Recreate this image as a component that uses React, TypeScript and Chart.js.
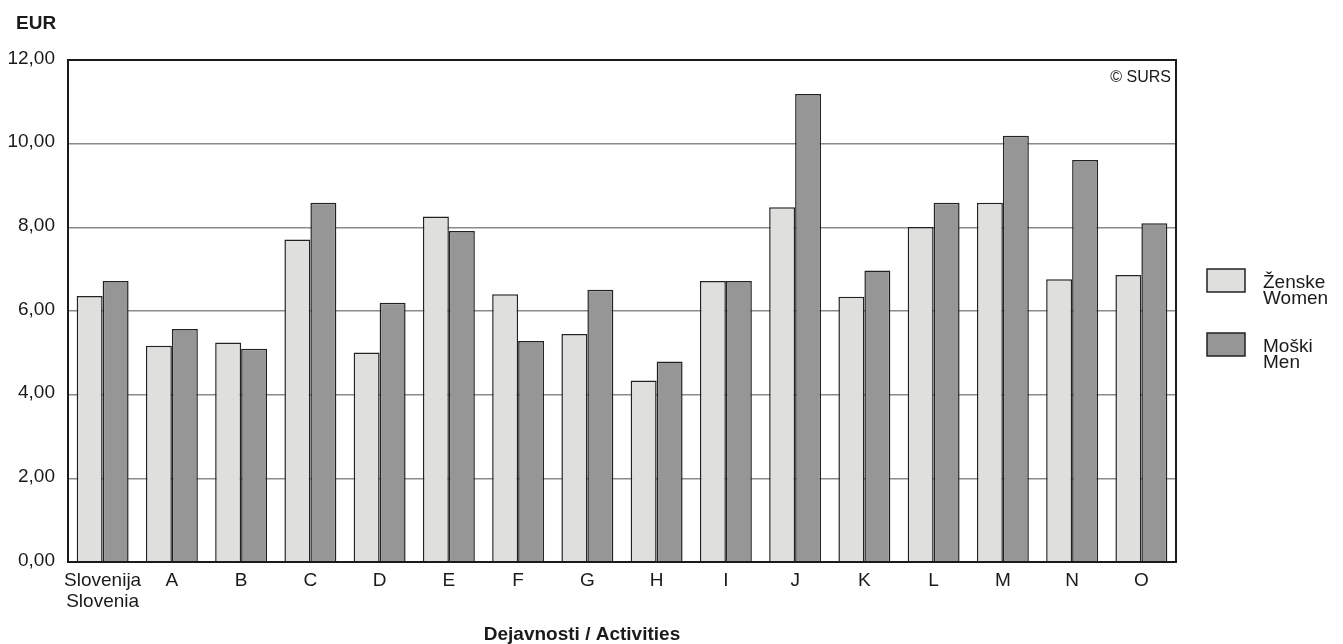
import React, { useEffect, useRef } from "react";
import { Chart, registerables } from "chart.js";

Chart.register(...registerables);

const categories: (string | string[])[] = [
  ["Slovenija", "Slovenia"], "A", "B", "C", "D", "E", "F", "G", "H", "I", "J", "K", "L", "M", "N", "O",
];
const women: number[] = [6.36, 5.17, 5.25, 7.71, 5.01, 8.26, 6.4, 5.45, 4.34, 6.72, 8.48, 6.34, 8.01, 8.59, 6.76, 6.86];
const men: number[] = [6.72, 5.57, 5.1, 8.59, 6.2, 7.91, 5.28, 6.51, 4.79, 6.72, 11.19, 6.97, 8.59, 10.19, 9.61, 8.1];
const seriesNames: string[][] = [["Ženske", "Women"], ["Moški", "Men"]];
const yTicks: number[] = [0, 2, 4, 6, 8, 10, 12];
const yTitle = "EUR";
const xTitle = "Dejavnosti / Activities";
const credit = "© SURS";

const WOMEN_FILL = "#dfdfdd";
const MEN_FILL = "#969696";
const BORDER = "#222222";
const FONT = "'Liberation Sans', Arial, sans-serif";

const decorPlugin = {
  id: "decor",
  afterDatasetsDraw(chart: any) {
    const { ctx, chartArea } = chart;
    ctx.save();
    ctx.strokeStyle = "#1a1a1a";
    ctx.lineWidth = 2;
    ctx.strokeRect(chartArea.left, chartArea.top, chartArea.right - chartArea.left, chartArea.bottom - chartArea.top);
    ctx.restore();
  },
  afterDraw(chart: any) {
    const { ctx, chartArea } = chart;
    ctx.save();
    ctx.fillStyle = "#1a1a1a";
    ctx.textBaseline = "alphabetic";
    ctx.font = `bold 19px ${FONT}`;
    ctx.textAlign = "left";
    ctx.fillText(yTitle, 16, 29);
    ctx.font = `bold 19px ${FONT}`;
    ctx.textAlign = "center";
    ctx.fillText(xTitle, 582, 640);
    ctx.font = `16px ${FONT}`;
    ctx.textAlign = "right";
    ctx.fillText(credit, chartArea.right - 5, 82);
    const fills = [WOMEN_FILL, MEN_FILL];
    const boxTops = [269, 333];
    ctx.font = `19px ${FONT}`;
    ctx.textAlign = "left";
    for (let i = 0; i < 2; i++) {
      const y = boxTops[i];
      ctx.fillStyle = fills[i];
      ctx.fillRect(1207, y, 38, 23);
      ctx.strokeStyle = BORDER;
      ctx.lineWidth = 1.5;
      ctx.strokeRect(1207, y, 38, 23);
      ctx.fillStyle = "#1a1a1a";
      ctx.fillText(seriesNames[i][0], 1263, y + 19);
      ctx.fillText(seriesNames[i][1], 1263, y + 35);
    }
    ctx.restore();
  },
};

export default function App() {
  const ref = useRef<HTMLCanvasElement>(null);
  useEffect(() => {
    document.body.style.margin = "0";
    const canvas = ref.current!;
    const chart = new Chart(canvas, {
      type: "bar",
      data: {
        labels: categories as any,
        datasets: [
          {
            label: seriesNames[0].join(" "),
            data: women,
            backgroundColor: WOMEN_FILL,
            borderColor: BORDER,
            borderWidth: 1.5,
            categoryPercentage: 0.75,
            barPercentage: 1.0,
          },
          {
            label: seriesNames[1].join(" "),
            data: men,
            backgroundColor: MEN_FILL,
            borderColor: BORDER,
            borderWidth: 1.5,
            categoryPercentage: 0.75,
            barPercentage: 1.0,
          },
        ],
      },
      options: {
        animation: false,
        responsive: false,
        maintainAspectRatio: false,
        layout: { padding: { top: 60, right: 167, left: 0, bottom: 0 } },
        plugins: { legend: { display: false }, tooltip: { enabled: false } },
        scales: {
          x: {
            grid: { display: false, drawTicks: false },
            border: { display: true, color: "#1a1a1a", width: 2 },
            ticks: {
              color: "#1a1a1a",
              font: { family: FONT, size: 19, lineHeight: 1.1 },
              padding: 8,
              maxRotation: 0,
              autoSkip: false,
            },
            afterFit(scale: any) {
              scale.height = 82;
            },
          },
          y: {
            min: 0,
            max: 12,
            afterBuildTicks(scale: any) {
              scale.ticks = yTicks.map((v) => ({ value: v }));
            },
            grid: { color: "#8a8a8a", lineWidth: 1.5, drawTicks: false },
            border: { display: true, color: "#1a1a1a", width: 2 },
            ticks: {
              color: "#1a1a1a",
              font: { family: FONT, size: 19 },
              padding: 13,
              labelOffset: -1.5,
              callback: (v: any) => Number(v).toFixed(2).replace(".", ","),
            },
            afterFit(scale: any) {
              scale.width = 68;
            },
          },
        },
      },
      plugins: [decorPlugin],
    });
    return () => chart.destroy();
  }, []);
  return (
    <div style={{ width: 1343, height: 644 }}>
      <canvas ref={ref} width={1343} height={644} style={{ display: "block" }} />
    </div>
  );
}
